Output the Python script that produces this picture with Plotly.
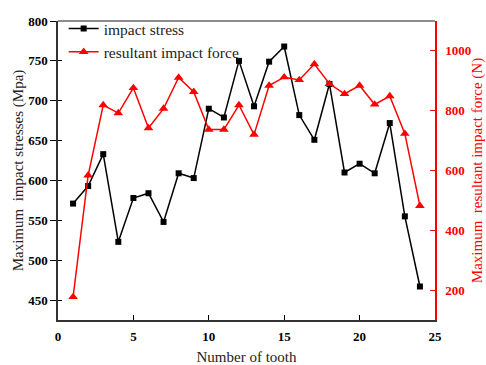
import plotly.graph_objects as go

# Tooth index and measured quantities
teeth = list(range(1, 25))
impact_stress = [571, 593, 633, 523, 578, 584, 548, 609, 603, 690, 679, 750,
                 693, 749, 768, 682, 651, 721, 610, 621, 609, 672, 555, 467]
impact_force = [177, 584, 819, 792, 876, 742, 807, 911, 863, 737, 737, 819,
                720, 884, 912, 903, 956, 890, 856, 884, 821, 849, 723, 482]

x_ticks = [0, 5, 10, 15, 20, 25]
stress_ticks = [450, 500, 550, 600, 650, 700, 750, 800]
force_ticks = [200, 400, 600, 800, 1000]

FONT = "Liberation Serif"
RED = "#ff0000"

fig = go.Figure()

fig.add_trace(go.Scatter(
    x=teeth, y=impact_stress, name="impact stress",
    mode="lines+markers",
    line=dict(color="black", width=1.5),
    marker=dict(symbol="square", size=6, color="black"),
    yaxis="y",
))
fig.add_trace(go.Scatter(
    x=teeth, y=impact_force, name="resultant impact force",
    mode="lines+markers",
    line=dict(color=RED, width=1.5),
    marker=dict(symbol="triangle-up", size=8.5, color=RED),
    yaxis="y2",
))
# invisible trace so the inner tick axis on the left is drawn
fig.add_trace(go.Scatter(
    x=[None], y=[None], yaxis="y3", showlegend=False, hoverinfo="skip",
))

fig.update_layout(
    width=486, height=365,
    margin=dict(l=58, r=51, t=15, b=45),
    paper_bgcolor="white", plot_bgcolor="white",
    font=dict(family=FONT, color="black"),
    showlegend=True,
    legend=dict(
        x=0.015, y=1.03, xanchor="left", yanchor="top",
        bgcolor="rgba(0,0,0,0)", borderwidth=0,
        font=dict(family=FONT, size=15.5, color="#222"),
        itemwidth=30, tracegroupgap=0,
    ),
    xaxis=dict(
        range=[0, 25], tickvals=x_ticks, automargin=False,
        ticks="inside", ticklen=5, tickcolor="black", tickwidth=1,
        ticklabelstandoff=4,
        showline=True, linecolor="#333", linewidth=1.5,
        showgrid=False, zeroline=False,
        tickfont=dict(family=FONT, size=13, color="black", weight="bold"),
        title=dict(text="Number of tooth", font=dict(family=FONT, size=15, color="#222"),
                   standoff=12),
    ),
    yaxis=dict(
        range=[425, 800], tickvals=stress_ticks, automargin=False,
        ticks="outside", ticklen=6, tickcolor="black", tickwidth=1,
        showline=True, linecolor="#333", linewidth=1.5,
        showgrid=False, zeroline=False,
        tickfont=dict(family=FONT, size=13, color="black", weight="bold"),
        title=dict(text="Maximum  impact stresses (Mpa)",
                   font=dict(family=FONT, size=15, color="#222"), standoff=1),
    ),
    yaxis3=dict(
        range=[425, 800], tickvals=stress_ticks, overlaying="y", side="left",
        automargin=False,
        ticks="inside", ticklen=4, tickcolor="black", tickwidth=1,
        showticklabels=False, showline=False, showgrid=False, zeroline=False,
    ),
    yaxis2=dict(
        range=[100, 1100], tickvals=force_ticks, overlaying="y", side="right",
        automargin=False,
        ticks="inside", ticklen=5, tickcolor=RED, tickwidth=1,
        ticklabelstandoff=6,
        showline=True, linecolor=RED, linewidth=1.5,
        showgrid=False, zeroline=False,
        tickfont=dict(family=FONT, size=13, color=RED, weight="bold"),
        title=dict(text="Maximum  resultant impact force (N)",
                   font=dict(family=FONT, size=15, color=RED), standoff=5),
    ),
    shapes=[dict(type="line", xref="paper", yref="paper", x0=0, x1=1, y0=1, y1=1,
                 line=dict(color="#666", width=1.5))],
)

fig.write_html("out.html")
